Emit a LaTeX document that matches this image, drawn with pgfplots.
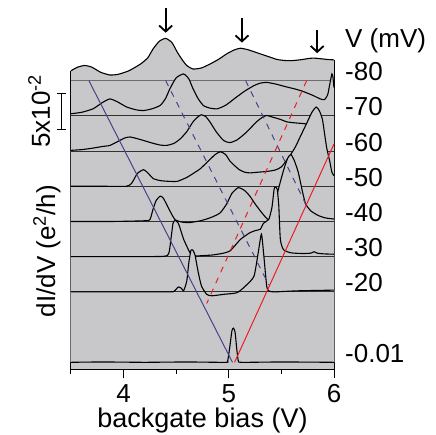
\documentclass[border=0pt]{standalone}
\usepackage{fontspec}
\setmainfont{Liberation Sans}
\usepackage{pgfplots}
\usepackage{pgfplotstable}
\pgfplotsset{compat=1.18}
\usetikzlibrary{arrows.meta}

\definecolor{bg}{RGB}{200,200,202}
\definecolor{lblue}{RGB}{68,68,138}
\definecolor{lred}{RGB}{237,28,36}
\definecolor{bline}{RGB}{50,50,50}

% dI/dV traces, each offset by its row (unit = 5x10^-2 e^2/h)
\pgfplotstableread{
x y
3.50 8.28
3.56 8.38
3.63 8.43
3.70 8.38
3.78 8.24
3.87 8.16
3.95 8.18
4.05 8.28
4.16 8.47
4.23 8.65
4.28 8.90
4.34 9.12
4.40 9.20
4.46 9.08
4.51 8.81
4.56 8.58
4.60 8.43
4.66 8.33
4.74 8.36
4.82 8.47
4.90 8.60
4.98 8.76
5.05 8.87
5.11 8.92
5.18 8.88
5.24 8.82
5.30 8.76
5.38 8.68
5.46 8.60
5.54 8.57
5.61 8.57
5.70 8.60
5.76 8.63
5.81 8.64
5.88 8.62
5.94 8.60
6.00 8.59
}\tA

\pgfplotstableread{
x y
3.50 7.06
3.60 7.10
3.71 7.20
3.80 7.38
3.87 7.48
3.94 7.40
4.03 7.25
4.12 7.17
4.19 7.15
4.27 7.20
4.35 7.30
4.40 7.50
4.44 7.77
4.50 8.08
4.57 8.19
4.62 8.05
4.66 7.77
4.71 7.48
4.76 7.29
4.82 7.22
4.89 7.20
4.97 7.30
5.05 7.48
5.15 7.70
5.24 7.86
5.30 7.93
5.36 7.95
5.45 7.90
5.55 7.82
5.62 7.77
5.70 7.70
5.80 7.58
5.87 7.48
5.91 7.46
5.94 7.60
5.96 7.90
5.98 8.19
5.99 8.10
6.00 7.80
}\tB

\pgfplotstableread{
x y
3.50 6.02
3.60 6.04
3.70 6.08
3.80 6.13
3.87 6.16
3.95 6.28
4.01 6.37
4.06 6.40
4.12 6.36
4.19 6.30
4.28 6.22
4.35 6.17
4.41 6.16
4.48 6.22
4.54 6.35
4.60 6.55
4.66 6.83
4.71 6.98
4.74 7.03
4.78 6.98
4.82 6.83
4.88 6.55
4.95 6.30
5.01 6.24
5.08 6.32
5.17 6.54
5.26 6.82
5.32 6.96
5.36 7.01
5.42 6.96
5.49 6.90
5.55 6.83
5.63 6.80
5.71 6.78
5.76 6.76
}\tC

\pgfplotstableread{
x y
3.50 5.00
3.80 5.00
4.03 5.00
4.08 5.10
4.13 5.36
4.19 5.47
4.24 5.35
4.28 5.22
4.35 5.16
4.43 5.14
4.51 5.14
4.60 5.25
4.67 5.38
4.73 5.50
4.80 5.70
4.87 5.90
4.92 5.98
4.97 5.90
5.01 5.72
5.05 5.60
5.10 5.47
5.15 5.40
5.20 5.38
5.28 5.40
5.36 5.42
5.44 5.46
5.50 5.55
5.57 5.82
5.63 6.10
5.67 6.35
5.71 6.60
5.75 6.85
5.79 7.10
5.83 7.25
5.86 7.15
5.89 6.90
5.91 6.50
5.93 6.10
5.96 5.70
5.98 5.40
6.00 5.30
}\tD

\pgfplotstableread{
x y
3.50 4.00
3.90 4.00
4.20 4.02
4.25 4.05
4.28 4.35
4.31 4.60
4.35 4.72
4.38 4.65
4.44 4.30
4.49 4.05
4.56 3.98
4.63 3.97
4.73 4.02
4.80 4.08
4.86 4.15
4.92 4.25
4.98 4.50
5.03 4.80
5.09 4.96
5.15 4.88
5.20 4.72
5.25 4.50
5.30 4.30
5.35 4.12
5.38 4.05
5.42 4.25
5.47 4.90
5.52 5.45
5.56 5.80
5.59 5.90
5.62 5.75
5.66 5.40
5.70 4.85
5.73 4.50
5.78 4.30
5.85 4.17
5.92 4.10
6.00 4.07
}\tE

\pgfplotstableread{
x y
3.50 3.00
4.00 3.00
4.38 3.01
4.43 3.10
4.45 3.50
4.47 3.95
4.49 4.03
4.52 3.95
4.54 3.78
4.57 3.50
4.60 3.30
4.63 3.12
4.66 3.02
4.75 3.03
4.85 3.05
4.95 3.10
5.01 3.16
5.06 3.32
5.11 3.49
5.16 3.60
5.20 3.68
5.25 3.74
5.30 3.78
5.33 3.95
5.38 4.06
5.41 4.40
5.43 4.90
5.44 4.98
5.46 4.92
5.475 4.45
5.49 3.49
5.52 3.20
5.59 3.11
5.70 3.09
5.78 3.10
5.81 3.14
5.84 3.10
5.90 3.08
6.00 3.07
}\tF

\pgfplotstableread{
x y
3.50 2.00
4.40 2.00
4.48 2.02
4.52 2.14
4.55 2.10
4.57 2.03
4.60 2.30
4.62 2.83
4.64 3.18
4.66 3.18
4.68 3.03
4.71 2.55
4.74 2.17
4.79 1.93
4.84 1.89
4.95 1.93
5.08 1.98
5.17 2.20
5.24 2.45
5.28 3.12
5.31 3.64
5.33 3.12
5.36 2.17
5.38 2.03
5.43 2.00
5.65 2.03
6.00 2.05
}\tG

\pgfplotstableread{
x y
3.50 0.00
3.80 0.01
4.20 0.00
4.60 0.01
4.97 0.00
4.99 0.05
5.01 0.45
5.03 0.90
5.045 0.97
5.06 0.85
5.075 0.40
5.09 0.05
5.12 0.00
5.50 0.01
6.00 0.00
}\tH

\begin{document}
\begin{tikzpicture}[x=1pt,y=1pt]
\useasboundingbox (-71,-65) rectangle (365,369);
\begin{axis}[
    at={(0,0)}, anchor=south west,
    scale only axis, width=263pt, height=369pt,
    xmin=3.5, xmax=6, ymin=-0.19, ymax=10.29,
    clip=false, axis on top,
    axis line style={draw=none},
    xtick={4,5,6}, minor xtick={3.5,4.5,5.5}, ytick=\empty,
    xtick pos=bottom, tick align=outside,
    major tick length=9pt, minor tick length=4.5pt,
    tick style={black, line width=1pt},
    /pgf/number format/assume math mode=true,
    ticklabel style={font=\fontsize{26}{30}\selectfont},
    xticklabel style={inner sep=0pt, yshift=-6pt},
    xlabel={backgate bias (V)},
    xlabel style={font=\fontsize{27}{30}\selectfont, inner sep=0pt, at={(axis description cs:0.5,0)}, anchor=base, yshift=-58pt},
    trace/.style={black, line width=1.1pt, smooth, tension=0.35},
    under/.style={fill=bg, draw=none, smooth, tension=0.35},
    zero/.style={bline, line width=0.9pt},
    guide/.style={line width=1pt},
    dashg/.style={line width=1pt, dash pattern=on 6pt off 6pt},
]
% top trace and the grey field under it
\addplot[under] table {\tA} \closedcycle;
\addplot[fill=bg, draw=none] coordinates {(3.5,-0.19) (3.5,0.05) (6,0.05) (6,-0.19)} -- cycle;
\addplot[trace] table {\tA};
\addplot[black, line width=1pt] coordinates {(3.5,8.28) (3.5,-0.19) (6,-0.19) (6,8.59)};
\addplot[color={rgb,255:red,110;green,110;blue,110}, line width=0.9pt] coordinates {(3.5,8) (6,8)};

\addplot[under] table {\tB} \closedcycle;
\addplot[zero] coordinates {(3.5,7) (6,7)};
\addplot[trace] table {\tB};

\addplot[under] table {\tC} \closedcycle;
\addplot[zero] coordinates {(3.5,6) (6,6)};
\addplot[trace] table {\tC};

\addplot[under] table {\tD} \closedcycle;
\addplot[zero] coordinates {(3.5,5) (6,5)};
\addplot[trace] table {\tD};

\addplot[under] table {\tE} \closedcycle;
\addplot[zero] coordinates {(3.5,4) (6,4)};
\addplot[trace] table {\tE};

\addplot[under] table {\tF} \closedcycle;
\addplot[zero] coordinates {(3.5,3) (6,3)};
\addplot[trace] table {\tF};

\addplot[under] table {\tG} \closedcycle;
\addplot[zero] coordinates {(3.5,2) (6,2)};
\addplot[trace] table {\tG};

\addplot[trace] table {\tH};

% guide lines
\addplot[lblue, guide] coordinates {(3.67,8) (5.035,0)};
\addplot[lblue, dashg] coordinates {(4.40,8) (5.38,2.2)};
\addplot[lblue, dashg] coordinates {(5.16,8) (5.73,4.5)};
\addplot[lred, guide] coordinates {(5.055,0) (6,6.2)};
\addplot[lred, dashg] coordinates {(5.74,8) (4.79,1.67)};

% arrows
\draw[line width=1.8pt, -{Straight Barb[length=6pt,width=13pt]}] (axis cs:4.40,10.07) -- (axis cs:4.40,9.36);
\draw[line width=1.8pt, -{Straight Barb[length=6pt,width=13pt]}] (axis cs:5.125,9.77) -- (axis cs:5.125,9.08);
\draw[line width=1.8pt, -{Straight Barb[length=6pt,width=13pt]}] (axis cs:5.84,9.44) -- (axis cs:5.84,8.78);

% bias labels
\begin{scope}[every node/.style={font=\fontsize{26}{30}\selectfont, anchor=base west, inner sep=0pt, xshift=11pt}]
\node at (axis cs:6,8) {-80};
\node at (axis cs:6,7) {-70};
\node at (axis cs:6,6) {-60};
\node at (axis cs:6,5) {-50};
\node at (axis cs:6,4) {-40};
\node at (axis cs:6,3) {-30};
\node at (axis cs:6,2) {-20};
\node at (axis cs:6,0) {-0.01};
\node at (axis cs:6,8.93) {V (mV)};
\end{scope}

% y label and scale bar
\node[rotate=90, anchor=base, inner sep=0pt, font=\fontsize{26}{30}\selectfont] at (axis cs:3.348,3.16) {dI/dV (e\textsuperscript{2}/h)};
\node[rotate=90, anchor=base, inner sep=0pt, font=\fontsize{26}{30}\selectfont] at (axis cs:3.30,7.13) {5x10\textsuperscript{-2}};
\draw[line width=1.2pt] (axis cs:3.412,7.64) -- (axis cs:3.412,6.62);
\draw[line width=1.2pt] (axis cs:3.369,7.64) -- (axis cs:3.455,7.64);
\draw[line width=1.2pt] (axis cs:3.369,6.62) -- (axis cs:3.455,6.62);
\end{axis}
\end{tikzpicture}
\end{document}
